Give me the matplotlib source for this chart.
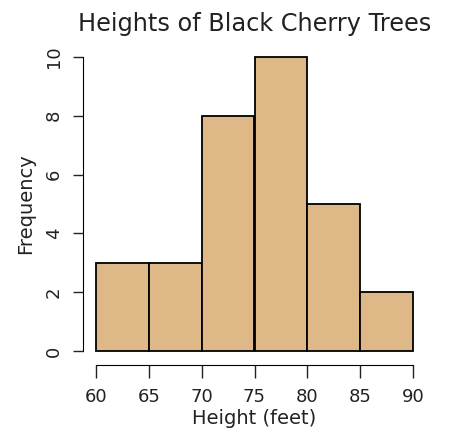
import numpy as np
import matplotlib.pyplot as plt

# Histogram counts of tree heights (R 'trees' data)
bin_edges = [60, 65, 70, 75, 80, 85, 90]
counts = [3, 3, 8, 10, 5, 2]
x_ticks = [60, 65, 70, 75, 80, 85, 90]
y_ticks = [0, 2, 4, 6, 8, 10]

fig = plt.figure(figsize=(4.55, 4.37), dpi=100)
ax = fig.add_axes([96 / 455, 1 - 351 / 437, (413 - 96) / 455, (351 - 57) / 437])

ax.hist(bin_edges[:-1], bins=bin_edges, weights=counts,
        color="#DEB887", edgecolor="black", linewidth=1.3, clip_on=False)

ax.set_xlim(60, 90)
ax.set_ylim(0, 10)
ax.set_xticks(x_ticks)
ax.set_yticks(y_ticks)

for side in ["top", "right"]:
    ax.spines[side].set_visible(False)
ax.spines["left"].set_position(("outward", 9.5))
ax.spines["bottom"].set_position(("outward", 10))
ax.spines["left"].set_bounds(0, 10)
ax.spines["bottom"].set_bounds(60, 90)
ax.tick_params(axis="both", width=1, labelsize=13, colors="#222222")
ax.tick_params(axis="x", length=9.5, pad=7)
ax.tick_params(axis="y", length=7.5, pad=7, labelrotation=90)
for lbl in ax.get_yticklabels():
    lbl.set_va("center")

ax.set_xlabel("Height (feet)", fontsize=14, color="#222222", labelpad=2)
ax.set_ylabel("Frequency", fontsize=14, color="#222222", labelpad=7)
ax.set_title("Heights of Black Cherry Trees", fontsize=17.3, color="#222222", pad=19)

plt.savefig("out.png", dpi=100)
